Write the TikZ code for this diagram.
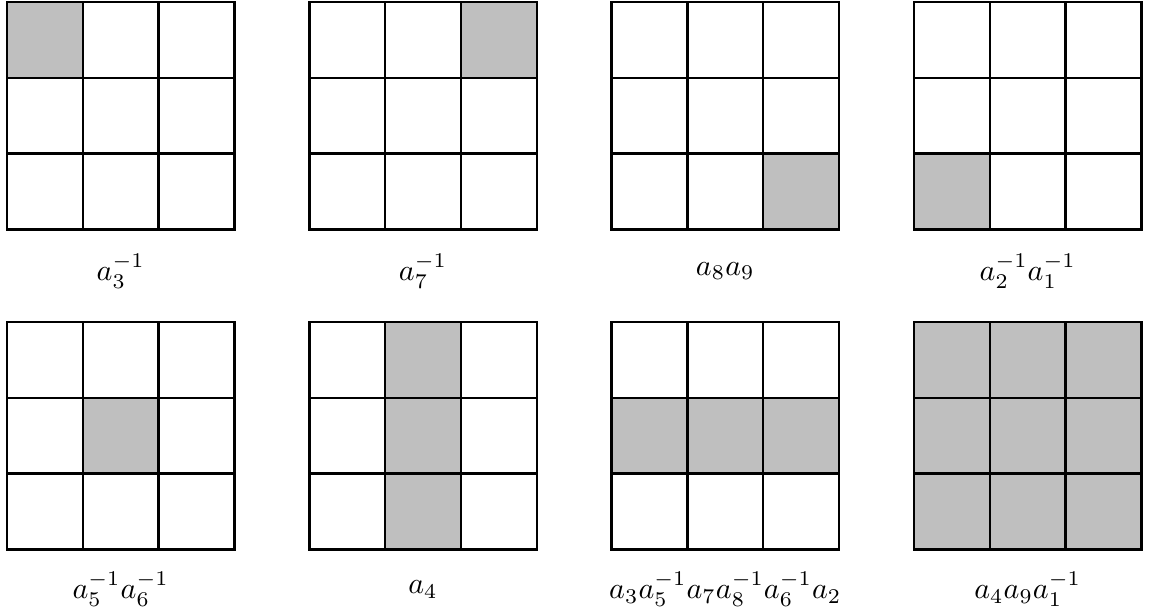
\documentclass[tikz,border=0pt]{standalone}
\newcommand\drawgrid[6]{%
  \foreach \c/\r in {#3} {\fill[shadecell] (#1+\c*75.8,#2+\r*75.8) rectangle ++(75.8,75.8);}
  \foreach \i in {1,2} {%
    \draw[gridline] (#1+\i*75.8,#2) -- ++(0,227.4);
    \draw[gridline] (#1,#2+\i*75.8) -- ++(227.4,0);}
  \draw[gridline] (#1,#2) rectangle ++(227.4,227.4);
  \node[lab] (#5) at (#1+113.7,#6) {$#4$};
}
\begin{document}
\begin{tikzpicture}[x=0.33333pt,y=-0.33333pt,
  gridline/.style={line width=0.8pt,line join=miter},
  shadecell/.style={fill=lightgray},
  lab/.style={inner sep=0pt}]
\useasboundingbox (0,0) rectangle (1152,613);
\drawgrid{7}{2}{0/0}{a_3^{-1}}{l1}{271}
\drawgrid{309.3}{2}{2/0}{a_7^{-1}}{l2}{271}
\drawgrid{611.6}{2}{2/2}{a_8a_9}{l3}{271}
\drawgrid{914}{2}{0/2}{a_2^{-1}a_1^{-1}}{l4}{271}
\drawgrid{7}{322}{1/1}{a_5^{-1}a_6^{-1}}{l5}{589.5}
\drawgrid{309.3}{322}{1/0,1/1,1/2}{a_4}{l6}{589.5}
\drawgrid{611.6}{322}{0/1,1/1,2/1}{a_3a_5^{-1}a_7a_8^{-1}a_6^{-1}a_2}{l7}{589.5}
\drawgrid{914}{322}{0/0,1/0,2/0,0/1,1/1,2/1,0/2,1/2,2/2}{a_4a_9a_1^{-1}}{l8}{589.5}
\end{tikzpicture}
\end{document}
